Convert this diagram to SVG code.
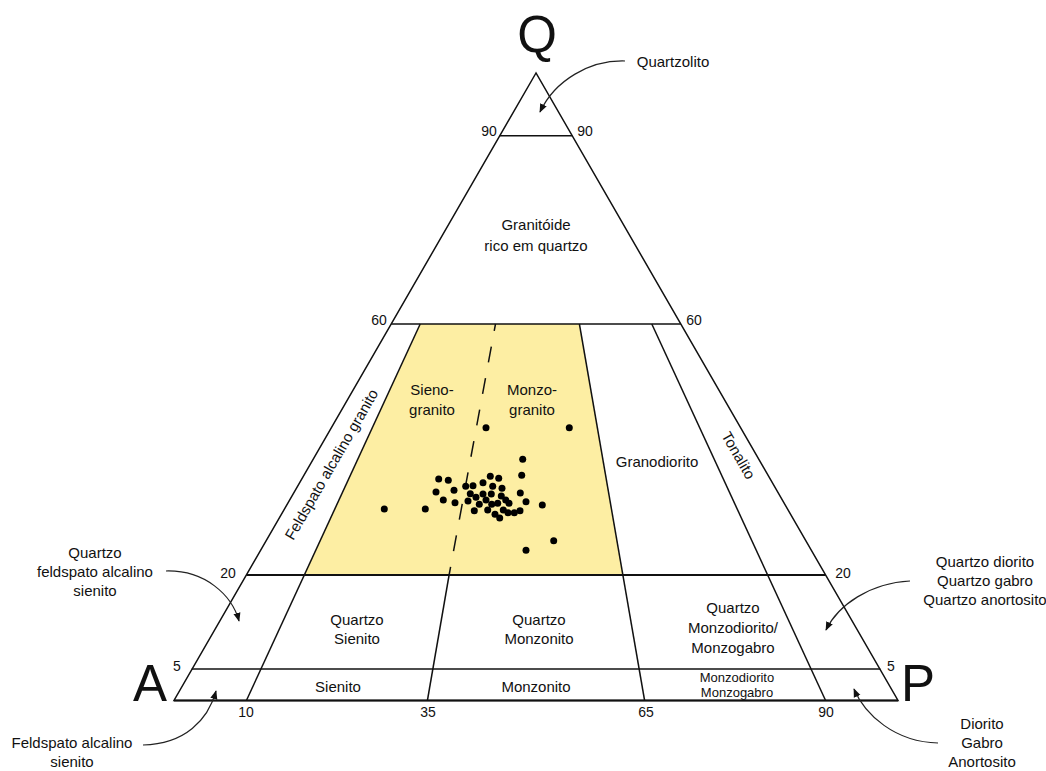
<svg xmlns="http://www.w3.org/2000/svg" width="1046" height="771" viewBox="0 0 1046 771">
<style>
text{font-family:"Liberation Sans",Arial,sans-serif;fill:#111;}
.lbl{font-size:15px;text-anchor:middle;}
.sm{font-size:13px;text-anchor:middle;}
.num{font-size:14px;text-anchor:middle;}
.big{font-size:51px;text-anchor:middle;}
.ln{stroke:#111;stroke-width:1.5;fill:none;}
.thick{stroke:#111;stroke-width:2;fill:none;}
.arr{stroke:#222;stroke-width:1.2;fill:none;marker-end:url(#ah);}
</style>
<defs>
<marker id="ah" viewBox="0 0 10 10" refX="9" refY="5" markerWidth="9" markerHeight="9" markerUnits="userSpaceOnUse" orient="auto">
<path d="M0,1 L10,5 L0,9 Z" fill="#111"/>
</marker>
</defs>
<rect width="1046" height="771" fill="#fff"/>
<g id="fill-granito">
<polygon points="420.2,324 579.4,324 622.9,574.6 304.3,574.6" fill="#fdeea3"/>
</g>
<g id="connectors">
<polygon class="ln" points="536,73 174,700.5 898,700.5"/>
<line class="thick" x1="174" y1="700.5" x2="898" y2="700.5"/>
<line class="ln" x1="499.8" y1="135.7" x2="572.2" y2="135.7"/>
<line class="ln" x1="391.2" y1="324" x2="680.8" y2="324"/>
<line class="thick" x1="246.4" y1="575" x2="825.6" y2="575"/>
<line class="ln" x1="191.7" y1="669" x2="880.3" y2="669"/>
<line class="ln" x1="420.2" y1="324" x2="246.4" y2="700.5"/>
<line class="ln" x1="495.5" y1="324" x2="449.1" y2="575" stroke-dasharray="16 16" stroke-dashoffset="9"/>
<line class="ln" x1="449.1" y1="575" x2="427.4" y2="700.5"/>
<line class="ln" x1="579.4" y1="324" x2="644.6" y2="700.5"/>
<line class="ln" x1="651.8" y1="324" x2="825.6" y2="700.5"/>
<path class="arr" d="M625,61 C590,60 555,80 540,112"/>
<path class="arr" d="M166,571 C205,570 232,595 239,621"/>
<path class="arr" d="M910,581 C870,583 838,605 826,630"/>
<path class="arr" d="M143,745 C185,744 208,720 216,691"/>
<path class="arr" d="M938,743 C895,742 865,715 854,689"/>
</g>
<g id="dots" fill="#000">
<circle cx="522.7" cy="459.3" r="3.5"/><circle cx="521.7" cy="475.3" r="3.5"/>
<circle cx="438.7" cy="479" r="3.5"/><circle cx="448.3" cy="480.3" r="3.5"/>
<circle cx="490.3" cy="476.3" r="3.5"/><circle cx="498.7" cy="478.3" r="3.5"/>
<circle cx="483" cy="482.7" r="3.5"/><circle cx="465.7" cy="486.3" r="3.5"/>
<circle cx="473" cy="485.7" r="3.5"/><circle cx="492.7" cy="486.3" r="3.5"/>
<circle cx="502" cy="488.3" r="3.5"/><circle cx="436" cy="492" r="3.5"/>
<circle cx="454" cy="490.3" r="3.5"/><circle cx="470.3" cy="493.7" r="3.5"/>
<circle cx="483" cy="494" r="3.5"/><circle cx="491.3" cy="494" r="3.5"/>
<circle cx="520.3" cy="493" r="3.5"/><circle cx="501.3" cy="496" r="3.5"/>
<circle cx="476" cy="497.3" r="3.5"/><circle cx="443.3" cy="500" r="3.5"/>
<circle cx="468" cy="501" r="3.5"/><circle cx="486" cy="500" r="3.5"/>
<circle cx="505.7" cy="500" r="3.5"/><circle cx="509" cy="503.3" r="3.5"/>
<circle cx="526" cy="501.7" r="3.5"/><circle cx="455" cy="502.7" r="3.5"/>
<circle cx="479.3" cy="504.3" r="3.5"/><circle cx="491.7" cy="504.3" r="3.5"/>
<circle cx="497.7" cy="503.3" r="3.5"/><circle cx="542.3" cy="505" r="3.5"/>
<circle cx="384.3" cy="509" r="3.5"/><circle cx="425.3" cy="509" r="3.5"/>
<circle cx="474.3" cy="510.7" r="3.5"/><circle cx="487.7" cy="510" r="3.5"/>
<circle cx="503.3" cy="510" r="3.5"/><circle cx="508" cy="512.7" r="3.5"/>
<circle cx="514.3" cy="512.7" r="3.5"/><circle cx="520" cy="510.7" r="3.5"/>
<circle cx="495" cy="514.3" r="3.5"/><circle cx="499.7" cy="518" r="3.5"/>
<circle cx="553.7" cy="540.7" r="3.5"/><circle cx="526" cy="550.3" r="3.5"/>
<circle cx="486" cy="427.7" r="3.5"/><circle cx="569.3" cy="427.7" r="3.5"/>
</g>
<g id="vertex-labels">
<text class="big" x="537" y="52">Q</text>
<text class="big" x="150" y="701">A</text>
<text class="big" x="918" y="701">P</text>
</g>
<g id="scale-labels">
<text class="num" x="489" y="136">90</text>
<text class="num" x="585" y="136">90</text>
<text class="num" x="379" y="325">60</text>
<text class="num" x="694" y="325">60</text>
<text class="num" x="228" y="578">20</text>
<text class="num" x="843" y="578">20</text>
<text class="num" x="177" y="671">5</text>
<text class="num" x="891" y="671">5</text>
<text class="num" x="246" y="717">10</text>
<text class="num" x="428" y="717">35</text>
<text class="num" x="646" y="717">65</text>
<text class="num" x="826" y="717">90</text>
</g>
<g id="field-labels">
<text class="lbl" x="536" y="230">Granitóide</text>
<text class="lbl" x="536" y="251">rico em quartzo</text>
<text class="lbl" x="432" y="395">Sieno-</text>
<text class="lbl" x="432" y="415">granito</text>
<text class="lbl" x="532" y="395">Monzo-</text>
<text class="lbl" x="532" y="415">granito</text>
<text class="lbl" x="657" y="467">Granodiorito</text>
<text class="lbl" transform="translate(734,458) rotate(60)">Tonalito</text>
<text class="lbl" transform="translate(336,467) rotate(-60)">Feldspato alcalino granito</text>
<text class="lbl" x="357" y="625">Quartzo</text>
<text class="lbl" x="357" y="644">Sienito</text>
<text class="lbl" x="539" y="625">Quartzo</text>
<text class="lbl" x="539" y="644">Monzonito</text>
<text class="lbl" x="733" y="613">Quartzo</text>
<text class="lbl" x="733" y="633">Monzodiorito/</text>
<text class="lbl" x="733" y="653">Monzogabro</text>
<text class="lbl" x="338" y="692">Sienito</text>
<text class="lbl" x="536" y="692">Monzonito</text>
<text class="sm" x="737" y="682">Monzodiorito</text>
<text class="sm" x="737" y="697">Monzogabro</text>
</g>
<g id="outside-labels">
<text class="lbl" x="673" y="67">Quartzolito</text>
<text class="lbl" x="95" y="558">Quartzo</text>
<text class="lbl" x="95" y="577">feldspato alcalino</text>
<text class="lbl" x="95" y="596">sienito</text>
<text class="lbl" x="985" y="567">Quartzo diorito</text>
<text class="lbl" x="985" y="586">Quartzo gabro</text>
<text class="lbl" x="985" y="605">Quartzo anortosito</text>
<text class="lbl" x="72" y="748">Feldspato alcalino</text>
<text class="lbl" x="72" y="767">sienito</text>
<text class="lbl" x="982" y="729">Diorito</text>
<text class="lbl" x="982" y="748">Gabro</text>
<text class="lbl" x="982" y="767">Anortosito</text>
</g>
</svg>
